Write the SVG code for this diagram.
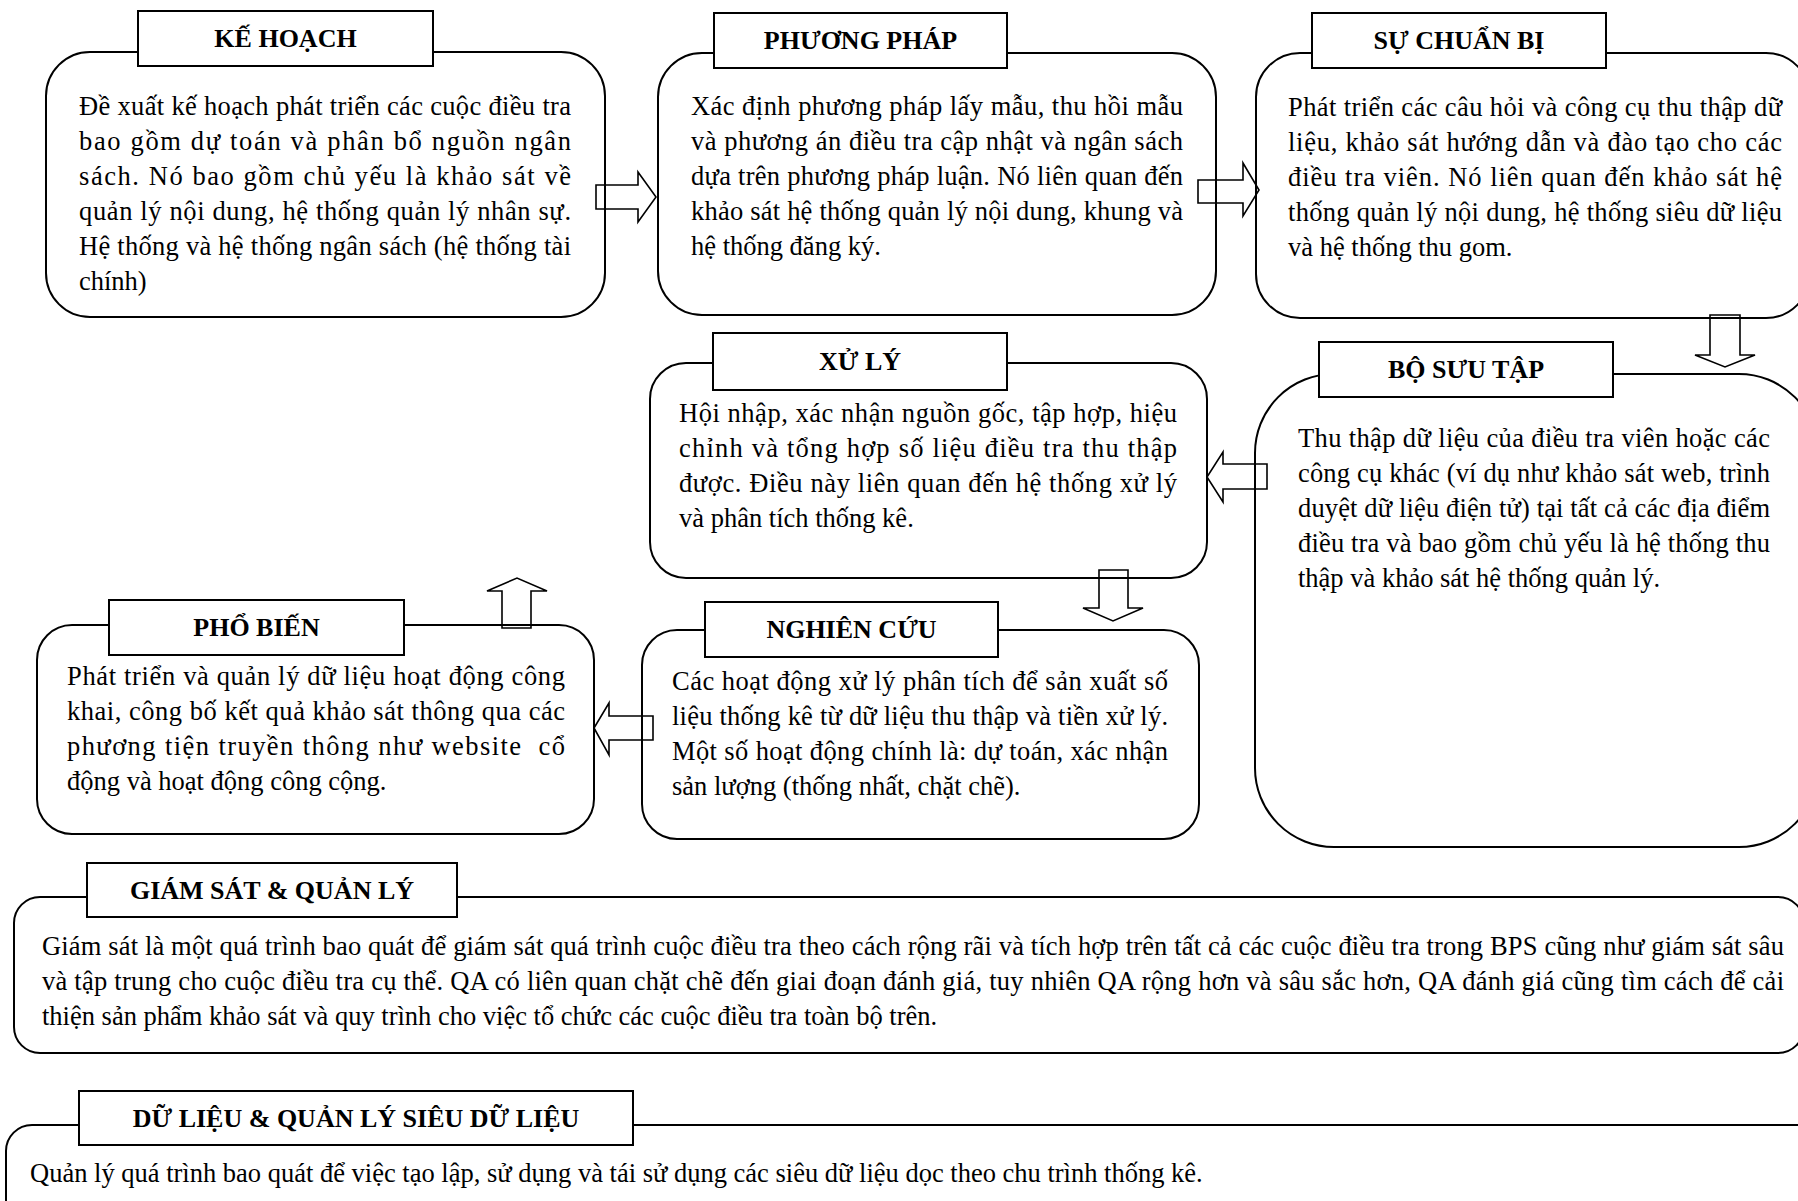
<svg xmlns="http://www.w3.org/2000/svg" width="1798" height="1201" viewBox="0 0 1798 1201">
<style>
.box{fill:none;stroke:#000;stroke-width:2}
.lbl{fill:#fff;stroke:#000;stroke-width:2}
.arr{fill:#fff;stroke:#000;stroke-width:1.6;stroke-linejoin:miter}
.t{font-family:"Liberation Serif","Times New Roman",serif;font-size:26.5px;fill:#000}
.h{font-family:"Liberation Serif","Times New Roman",serif;font-size:26px;font-weight:bold;fill:#000;text-anchor:middle}
</style>
<rect width="1798" height="1201" fill="#fff"/>
<g id="connectors">
<polygon class="arr" points="596,185 638,185 638,172 656,197 638,222 638,209 596,209"/>
<polygon class="arr" points="1198,180 1243,180 1243,163 1259,190 1243,216 1243,203 1198,203"/>
<polygon class="arr" points="1710,315 1740,315 1740,355 1755,355 1725,367 1695,355 1710,355"/>
<polygon class="arr" points="1267,464 1223,464 1223,452 1207,477 1223,502 1223,489 1267,489"/>
<polygon class="arr" points="1099,570 1128,570 1128,608 1143,608 1113,621 1083,608 1099,608"/>
<polygon class="arr" points="653,716 609,716 609,703 594,728 609,755 609,740 653,740"/>
<polygon class="arr" points="502,628 531,628 531,591 547,591 517,578 487,591 502,591"/>
</g>
<g id="ke-hoach">
<rect class="box" x="46" y="52" width="559" height="265" rx="44"/>
<rect class="lbl" x="138" y="11" width="295" height="55"/>
<text class="h" x="285.5" y="47">KẾ HOẠCH</text>
<text class="t" x="79" y="115" textLength="492" lengthAdjust="spacing">Đề xuất kế hoạch phát triển các cuộc điều tra</text>
<text class="t" x="79" y="150" textLength="492" lengthAdjust="spacing">bao gồm dự toán và phân bổ nguồn ngân</text>
<text class="t" x="79" y="185" textLength="492" lengthAdjust="spacing">sách. Nó bao gồm chủ yếu là khảo sát về</text>
<text class="t" x="79" y="220" textLength="492" lengthAdjust="spacing">quản lý nội dung, hệ thống quản lý nhân sự.</text>
<text class="t" x="79" y="255" textLength="492" lengthAdjust="spacing">Hệ thống và hệ thống ngân sách (hệ thống tài</text>
<text class="t" x="79" y="290">chính)</text>
</g>
<g id="phuong-phap">
<rect class="box" x="658" y="53" width="558" height="262" rx="44"/>
<rect class="lbl" x="714" y="13" width="293" height="55"/>
<text class="h" x="860.5" y="49">PHƯƠNG PHÁP</text>
<text class="t" x="691" y="115" textLength="492" lengthAdjust="spacing">Xác định phương pháp lấy mẫu, thu hồi mẫu</text>
<text class="t" x="691" y="150" textLength="492" lengthAdjust="spacing">và phương án điều tra cập nhật và ngân sách</text>
<text class="t" x="691" y="185" textLength="492" lengthAdjust="spacing">dựa trên phương pháp luận. Nó liên quan đến</text>
<text class="t" x="691" y="220" textLength="492" lengthAdjust="spacing">khảo sát hệ thống quản lý nội dung, khung và</text>
<text class="t" x="691" y="255">hệ thống đăng ký.</text>
</g>
<g id="su-chuan-bi">
<rect class="box" x="1256" y="53" width="554" height="265" rx="44"/>
<rect class="lbl" x="1312" y="13" width="294" height="55"/>
<text class="h" x="1459" y="49">SỰ CHUẨN BỊ</text>
<text class="t" x="1288" y="116" textLength="494" lengthAdjust="spacing">Phát triển các câu hỏi và công cụ thu thập dữ</text>
<text class="t" x="1288" y="151" textLength="494" lengthAdjust="spacing">liệu, khảo sát hướng dẫn và đào tạo cho các</text>
<text class="t" x="1288" y="186" textLength="494" lengthAdjust="spacing">điều tra viên. Nó liên quan đến khảo sát hệ</text>
<text class="t" x="1288" y="221" textLength="494" lengthAdjust="spacing">thống quản lý nội dung, hệ thống siêu dữ liệu</text>
<text class="t" x="1288" y="256">và hệ thống thu gom.</text>
</g>
<g id="xu-ly">
<rect class="box" x="650" y="363" width="557" height="215" rx="36"/>
<rect class="lbl" x="713" y="333" width="294" height="57"/>
<text class="h" x="860" y="370">XỬ LÝ</text>
<text class="t" x="679" y="422" textLength="498" lengthAdjust="spacing">Hội nhập, xác nhận nguồn gốc, tập hợp, hiệu</text>
<text class="t" x="679" y="457" textLength="498" lengthAdjust="spacing">chỉnh và tổng hợp số liệu điều tra thu thập</text>
<text class="t" x="679" y="492" textLength="498" lengthAdjust="spacing">được. Điều này liên quan đến hệ thống xử lý</text>
<text class="t" x="679" y="527">và phân tích thống kê.</text>
</g>
<g id="bo-suu-tap">
<rect class="box" x="1255" y="374" width="563" height="473" rx="79"/>
<rect class="lbl" x="1319" y="342" width="294" height="55"/>
<text class="h" x="1466" y="378">BỘ SƯU TẬP</text>
<text class="t" x="1298" y="447" textLength="472" lengthAdjust="spacing">Thu thập dữ liệu của điều tra viên hoặc các</text>
<text class="t" x="1298" y="482" textLength="472" lengthAdjust="spacing">công cụ khác (ví dụ như khảo sát web, trình</text>
<text class="t" x="1298" y="517" textLength="472" lengthAdjust="spacing">duyệt dữ liệu điện tử) tại tất cả các địa điểm</text>
<text class="t" x="1298" y="552" textLength="472" lengthAdjust="spacing">điều tra và bao gồm chủ yếu là hệ thống thu</text>
<text class="t" x="1298" y="587">thập và khảo sát hệ thống quản lý.</text>
</g>
<g id="pho-bien">
<rect class="box" x="37" y="625" width="557" height="209" rx="35"/>
<rect class="lbl" x="109" y="600" width="295" height="55"/>
<text class="h" x="256.5" y="636">PHỔ BIẾN</text>
<text class="t" x="67" y="685" textLength="498" lengthAdjust="spacing">Phát triển và quản lý dữ liệu hoạt động công</text>
<text class="t" x="67" y="720" textLength="498" lengthAdjust="spacing">khai, công bố kết quả khảo sát thông qua các</text>
<text class="t" x="67" y="755" textLength="498" lengthAdjust="spacing">phương tiện truyền thông như website&#160; cổ</text>
<text class="t" x="67" y="790">động và hoạt động công cộng.</text>
</g>
<g id="nghien-cuu">
<rect class="box" x="642" y="630" width="557" height="209" rx="35"/>
<rect class="lbl" x="705" y="602" width="293" height="55"/>
<text class="h" x="851.5" y="638">NGHIÊN CỨU</text>
<text class="t" x="672" y="690" textLength="496" lengthAdjust="spacing">Các hoạt động xử lý phân tích để sản xuất số</text>
<text class="t" x="672" y="725" textLength="496" lengthAdjust="spacing">liệu thống kê từ dữ liệu thu thập và tiền xử lý.</text>
<text class="t" x="672" y="760" textLength="496" lengthAdjust="spacing">Một số hoạt động chính là: dự toán, xác nhận</text>
<text class="t" x="672" y="795">sản lượng (thống nhất, chặt chẽ).</text>
</g>
<g id="giam-sat">
<rect class="box" x="14" y="897" width="1790" height="156" rx="26"/>
<rect class="lbl" x="87" y="863" width="370" height="54"/>
<text class="h" x="272" y="899">GIÁM SÁT &amp; QUẢN LÝ</text>
<text class="t" x="42" y="955" textLength="1742" lengthAdjust="spacing">Giám sát là một quá trình bao quát để giám sát quá trình cuộc điều tra theo cách rộng rãi và tích hợp trên tất cả các cuộc điều tra trong BPS cũng như giám sát sâu</text>
<text class="t" x="42" y="990" textLength="1742" lengthAdjust="spacing">và tập trung cho cuộc điều tra cụ thể. QA có liên quan chặt chẽ đến giai đoạn đánh giá, tuy nhiên QA rộng hơn và sâu sắc hơn, QA đánh giá cũng tìm cách để cải</text>
<text class="t" x="42" y="1025">thiện sản phẩm khảo sát và quy trình cho việc tổ chức các cuộc điều tra toàn bộ trên.</text>
</g>
<g id="du-lieu">
<rect class="box" x="6" y="1125" width="1840" height="140" rx="26"/>
<rect class="lbl" x="79" y="1091" width="554" height="54"/>
<text class="h" x="356" y="1127">DỮ LIỆU &amp; QUẢN LÝ SIÊU DỮ LIỆU</text>
<text class="t" x="30" y="1182">Quản lý quá trình bao quát để việc tạo lập, sử dụng và tái sử dụng các siêu dữ liệu dọc theo chu trình thống kê.</text>
</g>
</svg>
